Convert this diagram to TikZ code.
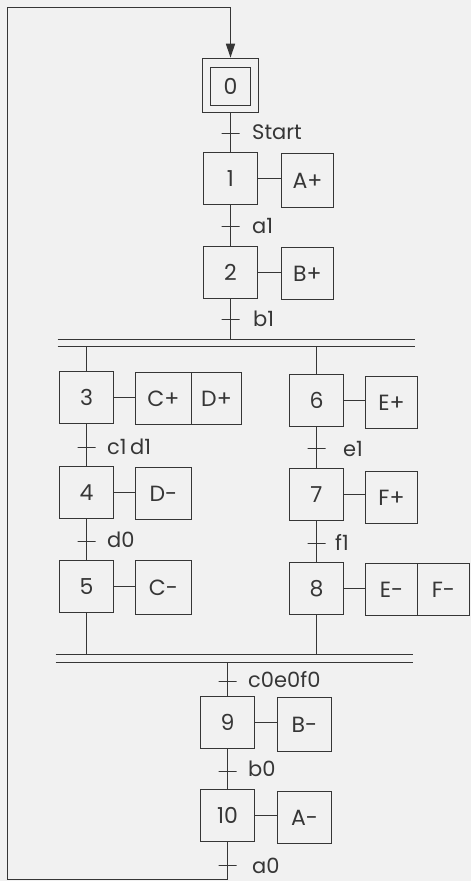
\documentclass[tikz,border=0pt]{standalone}
\usepackage{fontspec}
\setmainfont{Poppins}
\usetikzlibrary{arrows.meta}
\definecolor{ink}{HTML}{363636}
\definecolor{paper}{HTML}{F1F1F1}
\tikzset{
  link/.style={draw=ink, line width=1.6pt},
  stepbox/.style={link, minimum width=54pt, minimum height=52pt, inner sep=0pt, text=ink, font=\fontsize{22}{24}\selectfont},
  actbox/.style={stepbox, minimum width=52pt, minimum height=52pt},
  trans/.style={link, minimum width=18pt, minimum height=0pt, inner sep=0pt, shape=rectangle},
  cond/.style={text=ink, anchor=west, inner sep=0pt, font=\fontsize{21}{23}\selectfont},
}
\begin{document}
\begin{tikzpicture}[x=1pt,y=-1pt]
\fill[paper] (0,0) rectangle (471,881);
\useasboundingbox (0,0) rectangle (471,881);

% ---- main column (top)
\node[stepbox, minimum width=56pt, minimum height=54pt] (s0) at (230.5,85.5) {};
\node[stepbox, minimum width=40pt, minimum height=38pt] (s0i) at (230.5,86.5) {0};
\node[trans] (t0) at (230.5,133.5) {};
\node[cond] (l0) at (252,132) {Start};
\node[stepbox] (s1) at (230.5,178.5) {1};
\node[actbox, minimum height=54pt] (a1) at (307.5,180.5) {A+};
\node[trans] (t1) at (230.5,226.5) {};
\node[cond] (l1) at (252,226) {a1};
\node[stepbox] (s2) at (230.5,272.5) {2};
\node[actbox] (a2) at (307.5,273.5) {B+};
\node[trans] (t2) at (230.5,319.5) {};
\node[cond] (l2) at (253,319) {b1};

% ---- divergence bars
\coordinate (pa1) at (57.5,339.5);  \coordinate (pa2) at (414.5,339.5);
\coordinate (pb1) at (57.5,346.5);  \coordinate (pb2) at (414.5,346.5);
\draw[link] (pa1) -- (pa2);
\draw[link] (pb1) -- (pb2);

% ---- left branch
\node[stepbox] (s3) at (86.5,397.5) {3};
\node[actbox, minimum width=56pt] (a3) at (163.5,398.5) {C+};
\node[actbox, minimum width=50pt] (a3b) at (216.5,398.5) {D+};
\node[trans] (t3) at (86.5,447.5) {};
\node[cond] (l3) at (107,447) {c1\,d1};
\node[stepbox] (s4) at (86.5,492.5) {4};
\node[actbox, minimum width=56pt] (a4) at (163.5,493.5) {D-};
\node[trans] (t4) at (86.5,541.5) {};
\node[cond] (l4) at (107,540) {d0};
\node[stepbox] (s5) at (86.5,586.5) {5};
\node[actbox, minimum width=56pt, minimum height=54pt] (a5) at (163.5,587.5) {C-};

% ---- right branch
\node[stepbox] (s6) at (316.5,400.5) {6};
\node[actbox] (a6) at (391.5,402.5) {E+};
\node[trans] (t6) at (316.5,448.5) {};
\node[cond] (l6) at (343,449) {e1};
\node[stepbox] (s7) at (316.5,494.5) {7};
\node[actbox] (a7) at (391.5,497.5) {F+};
\node[trans] (t7) at (316.5,543.5) {};
\node[cond] (l7) at (335,542) {f1};
\node[stepbox] (s8) at (316.5,588.5) {8};
\node[actbox] (a8) at (391.5,589.5) {E-};
\node[actbox] (a8b) at (443.5,589.5) {F-};

% ---- convergence bars
\coordinate (qa1) at (55.5,654.5);  \coordinate (qa2) at (412.5,654.5);
\coordinate (qb1) at (55.5,662.5);  \coordinate (qb2) at (412.5,662.5);
\draw[link] (qa1) -- (qa2);
\draw[link] (qb1) -- (qb2);

% ---- main column (bottom)
\node[trans] (t8) at (227.5,681.5) {};
\node[cond] (l8) at (248,680) {c0e0f0};
\node[stepbox] (s9) at (227.5,722.5) {9};
\node[actbox, minimum width=54pt, minimum height=54pt] (a9) at (304.5,724.5) {B-};
\node[trans] (t9) at (227.5,771.5) {};
\node[cond] (l9) at (248,769) {b0};
\node[stepbox] (s10) at (227.5,815.5) {10};
\node[actbox, minimum width=54pt] (a10) at (304.5,817.5) {A-};
\node[trans] (t10) at (227.5,865.5) {};
\node[cond] (l10) at (252,866) {a0};

% ---- return loop
\coordinate (cBR) at (227.5,879.5);
\coordinate (cBL) at (7.5,879.5);
\coordinate (cTL) at (7.5,7.5);
\coordinate (cTR) at (230.5,7.5);

% ---- connectors
\draw[link] (s0) -- (t0) -- (s1);
\draw[link] (s1) -- (t1) -- (s2);
\draw[link] (s2) -- (t2) -- (t2 |- pa1);
\draw[link] (s1.east) -- (s1.east -| a1.west);
\draw[link] (s2.east) -- (s2.east -| a2.west);

\draw[link] (s3 |- pb1) -- (s3);
\draw[link] (s3) -- (t3) -- (s4);
\draw[link] (s4) -- (t4) -- (s5);
\draw[link] (s5) -- (s5 |- qa1);
\draw[link] (s3.east) -- (s3.east -| a3.west);
\draw[link] (s4.east) -- (s4.east -| a4.west);
\draw[link] (s5.east) -- (s5.east -| a5.west);

\draw[link] (s6 |- pb1) -- (s6);
\draw[link] (s6) -- (t6) -- (s7);
\draw[link] (s7) -- (t7) -- (s8);
\draw[link] (s8) -- (s8 |- qa1);
\draw[link] (s6.east) -- (s6.east -| a6.west);
\draw[link] (s7.east) -- (s7.east -| a7.west);
\draw[link] (s8.east) -- (s8.east -| a8.west);

\draw[link] (t8 |- qb1) -- (t8) -- (s9);
\draw[link] (s9) -- (t9) -- (s10);
\draw[link] (s9.east) -- (s9.east -| a9.west);
\draw[link] (s10.east) -- (s10.east -| a10.west);

\draw[link, -{Triangle[length=14pt,width=9pt]}] (s10) -- (t10) -- (cBR) -- (cBL) -- (cTL) -- (cTR) -- (s0);
\end{tikzpicture}
\end{document}
